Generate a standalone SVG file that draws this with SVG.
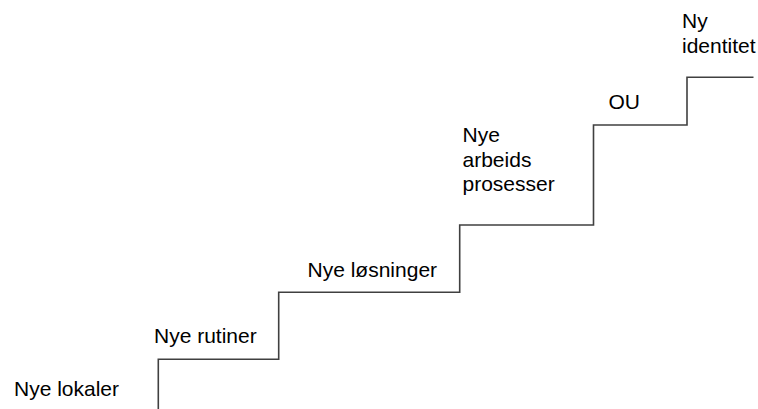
<svg xmlns="http://www.w3.org/2000/svg" width="758" height="409" viewBox="0 0 758 409">
  <style>
    .lbl { font-family: "Liberation Sans", Arial, sans-serif; font-size: 21px; fill: #000; }
    .stair { fill: none; stroke: #404040; stroke-width: 1.6; }
  </style>
  <rect width="758" height="409" fill="#fff"/>
  <g id="connectors">
    <path class="stair" d="M158.3,409 V359.3 H278.7 V292.3 H459.7 V225 H593.5 V125 H687 V77.3 H753.5"/>
  </g>
  <g id="step1"><text class="lbl" x="14" y="396">Nye lokaler</text></g>
  <g id="step2"><text class="lbl" x="154" y="343">Nye rutiner</text></g>
  <g id="step3"><text class="lbl" x="307.5" y="277">Nye løsninger</text></g>
  <g id="step4">
    <text class="lbl" x="462.5" y="142">Nye</text>
    <text class="lbl" x="462.5" y="166.5">arbeids</text>
    <text class="lbl" x="462.5" y="191">prosesser</text>
  </g>
  <g id="step5"><text class="lbl" x="608.5" y="109">OU</text></g>
  <g id="step6">
    <text class="lbl" x="682" y="27.5">Ny</text>
    <text class="lbl" x="682" y="53">identitet</text>
  </g>
</svg>
